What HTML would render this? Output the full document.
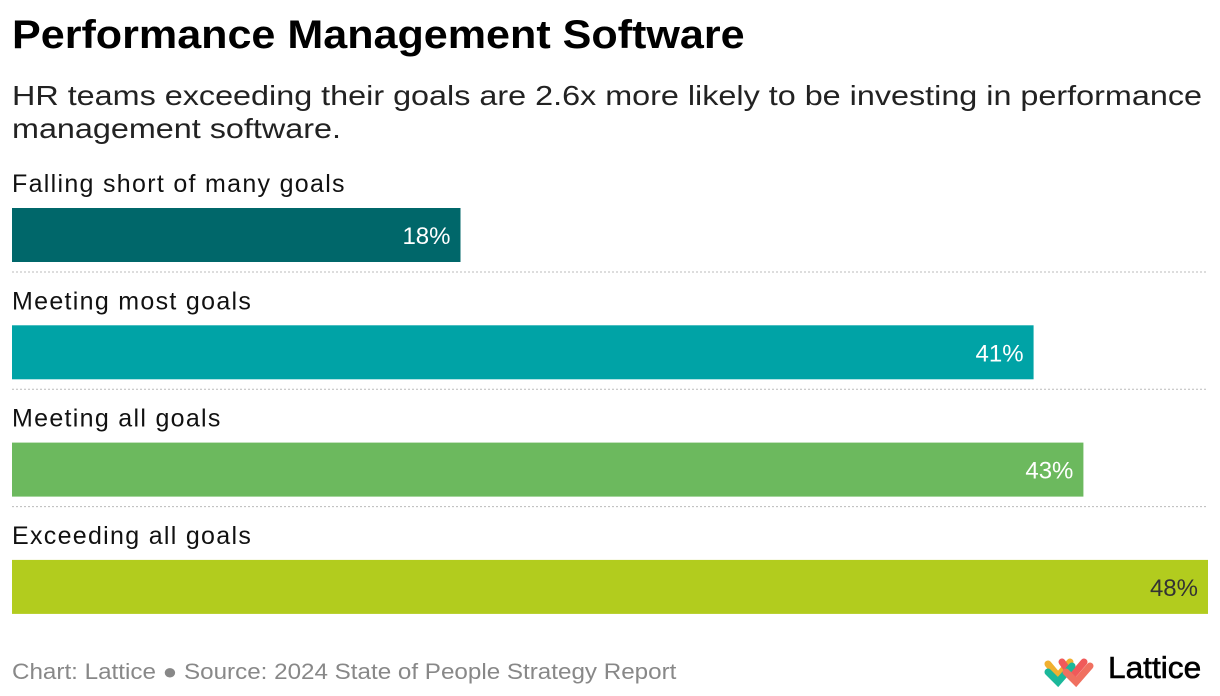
<!DOCTYPE html>
<html><head><meta charset="utf-8"><style>
body{margin:0;width:1220px;height:696px;background:#fff;font-family:"Liberation Sans",sans-serif;position:relative;overflow:hidden;color:#000}
.t{position:absolute;white-space:nowrap;transform-origin:0 0}
</style></head><body>
<div class="t" style="left:12px;top:13px;font-size:40px;font-weight:bold;transform:scaleX(1.077)">Performance Management Software</div>
<div class="t" style="left:12px;top:79px;font-size:28px;line-height:33px;color:#222;transform:scaleX(1.155)">HR teams exceeding their goals are 2.6x more likely to be investing in performance<br>management software.</div>
<svg id="chart" width="1220" height="640" style="position:absolute;left:0;top:0"></svg>
<div class="t" style="left:12px;top:659px;font-size:22px;color:#888;transform:scaleX(1.1)">Chart: Lattice ● Source: 2024 State of People Strategy Report</div>
<svg width="60" height="40" style="position:absolute;left:1040px;top:650px">
<g stroke-linecap="round" stroke-width="7" fill="none">
<path d="M8 14 L18 26 L30 12" stroke="#f0b030"/>
<path d="M22 12 L32 26 L44 12" stroke="#f05a5a"/>
<path d="M8 22 L18 32 L32 16" stroke="#1bb89a"/>
<path d="M26 22 L36 32 L50 16" stroke="#f07060"/>
</g></svg>
<div class="t" style="left:1108px;top:650px;font-size:31px;transform:scaleX(1.02);-webkit-text-stroke:0.6px #000">Lattice</div>
<script>
const categories=["Falling short of many goals","Meeting most goals","Meeting all goals","Exceeding all goals"];
const values=[18,41,43,48];
const colors=["#00676a","#00a3a6","#6cb95e","#b2cc1e"];
const labelColors=["#fff","#fff","#fff","#333"];
const svg=document.getElementById('chart');
const NS="http://www.w3.org/2000/svg";
const x0=12,x1=1208,maxV=48;
const xs=v=>x0+(x1-x0)*v/maxV;
const rowTop=i=>208+i*117.3;
function mk(t,a){const e=document.createElementNS(NS,t);for(const k in a)e.setAttribute(k,a[k]);svg.appendChild(e);return e;}
categories.forEach((c,i)=>{
 const y=rowTop(i);
 const l=mk('text',{x:12,y:y-16,'font-size':25,fill:'#111','font-family':'Liberation Sans','letter-spacing':'1.3'});l.textContent=c;
 
 
 const r=mk('rect',{x:x0,y:y,width:xs(values[i])-x0,height:54,fill:colors[i]});
 
 
 const v=mk('text',{x:xs(values[i])-10,y:y+36,'font-size':24,fill:labelColors[i],'text-anchor':'end','font-family':'Liberation Sans'});v.textContent=values[i]+'%';
 
 
 if(i<categories.length-1){
  const s=mk('line',{x1:12,x2:1208,y1:y+64,y2:y+64,stroke:'#bbb','stroke-dasharray':'2,2'});
  
  
 }
});
</script>
</body></html>
